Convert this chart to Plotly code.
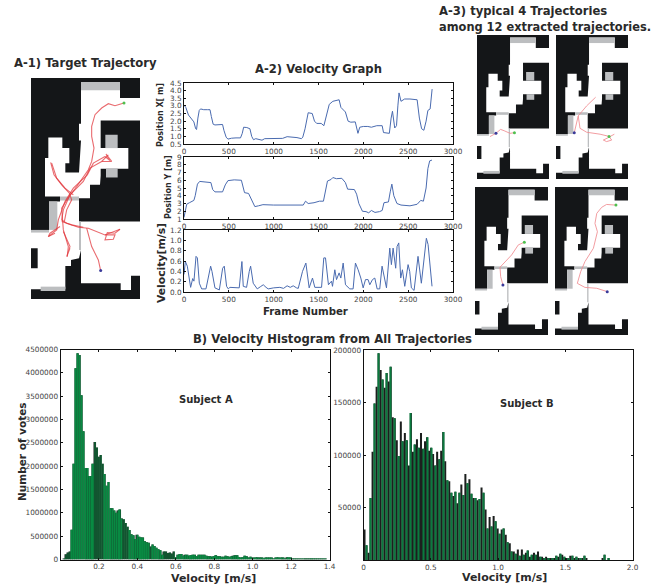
import plotly.graph_objects as go

W, H = 662, 586
FONT = "DejaVu Sans"
INK = "#2a2a2a"

# ---- Data ----
pos_x_frames = [0,20,50,80,110,130,140,155,170,185,220,260,290,305,325,345,380,430,445,470,490,530,580,630,650,665,700,735,755,775,800,830,870,900,950,1050,1100,1150,1200,1260,1310,1325,1350,1370,1385,1430,1455,1480,1530,1560,1590,1620,1660,1700,1730,1750,1800,1830,1860,1910,1940,1960,2000,2050,2090,2150,2210,2225,2290,2310,2325,2350,2370,2385,2398,2420,2460,2520,2600,2625,2650,2675,2700,2720,2745,2767]
pos_x_values = [3.05,2.9,2.4,2.15,1.95,1.5,1.45,2.2,2.7,2.8,2.75,2.75,2.75,2.3,1.8,1.75,1.75,1.78,1.4,0.95,0.82,0.88,0.9,0.9,1.2,1.6,1.58,1.5,1.0,0.78,0.85,0.82,0.75,0.85,0.85,0.87,0.87,0.98,0.97,0.92,0.85,0.95,1.5,2.1,2.55,2.5,2.0,1.85,1.85,1.7,2.5,3.1,3.3,3.35,3.4,2.9,2.6,2.0,1.93,1.95,1.2,1.6,1.65,1.65,1.6,1.7,1.7,1.25,1.2,2.2,2.65,1.55,1.7,3.0,3.85,3.3,3.45,3.45,3.4,2.2,1.5,1.4,2.0,2.7,2.8,4.1]
pos_y_frames = [0,15,30,60,110,125,150,175,260,300,320,345,430,460,490,560,640,660,675,720,740,770,790,830,880,1000,1100,1200,1330,1355,1385,1450,1510,1555,1580,1600,1640,1660,1700,1760,1800,1825,1900,1925,1950,1990,2030,2060,2090,2130,2180,2210,2230,2280,2300,2318,2340,2375,2420,2480,2520,2600,2640,2670,2700,2720,2740,2765]
pos_y_values = [1.2,2,2.9,3.1,3.4,4,5.5,5.85,5.8,5.7,4.8,4.5,4.5,5.4,5.95,6.05,6.0,5.0,4.4,4.3,3.8,2.9,2.6,2.7,2.85,2.8,2.8,2.85,2.8,3.3,3.0,3.1,3.3,3.3,5,5.9,6.1,6.35,6.2,6.25,5.7,4.85,4.8,4.2,3,2,1.95,1.8,2.1,1.85,1.95,2.1,3.1,3.2,4.5,5.5,4,3,2.8,2.75,2.7,2.9,3.4,3.3,5,7.5,8.5,8.6]
vel_frames = [0,15,37,74,97,111,134,149,171,197,245,297,312,345,394,431,449,475,494,512,616,635,646,661,698,728,743,772,817,850,884,915,939,1000,1069,1110,1150,1185,1218,1255,1274,1322,1359,1396,1433,1459,1534,1559,1578,1611,1645,1656,1682,1701,1730,1749,1775,1801,1849,1886,1912,1942,1972,1998,2024,2053,2072,2102,2128,2154,2183,2209,2232,2258,2295,2313,2332,2361,2376,2395,2417,2436,2462,2499,2517,2536,2566,2610,2647,2677,2703,2722,2766]
vel_values = [.34,.59,.50,.09,.26,.21,.69,.66,.17,.06,.06,.50,.40,.08,.04,.46,.50,.11,.06,.09,.08,.53,.59,.11,.09,.40,.50,.17,.06,.10,.14,.09,.06,.08,.09,.07,.12,.09,.12,.08,.07,.40,.56,.08,.27,.09,.09,.66,.66,.14,.21,.11,.43,.24,.37,.27,.56,.14,.06,.06,.56,.43,.27,.08,.24,.24,.14,.24,.27,.06,.06,.50,.27,.08,.85,.53,.85,.46,.88,.95,.27,.43,.11,.53,.40,.08,.03,.69,.17,.62,1.04,.92,.11]

hist_a_start, hist_a_bin = 0.02, 0.01
hist_a_votes = [15,110,150,170,640,2050,4100,4420,4380,3520,2750,1960,1960,1790,1790,2050,2520,2400,2200,2240,2050,1830,1580,1660,1100,1100,1050,1000,1050,1070,880,860,780,700,630,540,520,440,530,490,470,470,390,370,360,280,320,290,250,220,200,100,170,170,140,150,130,170,50,100,120,120,80,100,100,80,90,100,100,70,100,100,100,100,80,70,70,60,70,90,70,70,60,60,80,70,60,70,80,90,90,50,40,50,80,70,30,60,40,40,50,40,30,30,20,30,40,40,30,20,40,50,30,40,30,20,50,40,30,10,10,20,10,10,10,20,10,10,10,5,5,5,5,5,5,5,5]
hist_b_start, hist_b_bin = 0.0, 0.015
hist_b_votes = [29,14,7,59,103,149,165,197,181,172,164,178,170,184,136,135,114,99,132,113,121,114,90,140,103,110,115,107,121,106,113,117,104,107,101,90,103,96,104,122,94,76,75,64,61,65,54,64,72,62,82,73,77,63,59,59,57,58,69,64,48,30,41,32,42,37,30,25,29,30,24,17,16,8,8,6,10,4,10,5,7,9,3,5,7,5,8,3,3,2,3,1,2,1,2,4,3,6,5,3,2,2,4,4,2,3,1,1,1,4,2,0,0,0,0,0,0,0,2,5,0,2]

map_black_x = [93,420,420,93]
map_black_y = [85,85,747,747]
map_white_x = [243,360,360,420,420,302,302,385,385,302,302,300,270,270,237,237,420,420,393,393,362,362,243,243,237,213,213,196,196,93,93,113,113,93,93,147,147,180,180,135,135,145,145,187,187,208,208,196,196,237,243,237,237,243]
map_white_y = [97,97,145,145,212,212,295,295,357,357,378,405,405,445,445,515,515,677,677,720,720,700,700,600,625,630,648,648,718,718,655,655,595,595,540,540,455,455,440,440,325,325,263,263,295,295,340,340,368,368,272,272,222,222]
map_gray_blocks = [
    ([243,360,360,243],[97,97,122,122]),
    ([316,353,353,316],[255,255,295,295]),
    ([318,353,353,318],[357,357,383,383]),
    ([147,172,172,147],[455,455,540,540]),
    ([180,237,237,180],[440,440,452,452]),
    ([93,147,147,93],[540,540,548,548]),
    ([237,243,243,237],[515,515,600,600]),
    ([122,196,196,122],[710,710,723,723]),
]

target_strands = [
    ([372,345,325,305,285,275,275,282,275,265,230,208,190,185,200,235,265,315,360],[160,168,162,175,195,230,260,295,335,360,410,440,480,510,520,532,535,555,538]),
    ([315,280,262,220,195,175,170,145],[320,340,375,415,455,510,540,560]),
    ([325,305,270,250,210,185,190,205,202],[315,335,355,395,435,475,540,590,620]),
    ([152,162,185,208,215,200,193],[338,375,405,430,450,480,515]),
    ([155,170,195,220],[340,385,415,435]),
    ([180,150,145,165],[530,550,560,550]),
    ([190,210,200,210],[545,590,620,595]),
    ([260,275,295,302],[535,590,630,662]),
    ([315,345,340,315,322,345,360],[555,555,568,570,548,550,538]),
    ([315,330,318,335,305],[320,332,313,335,335]),
    ([185,215,250],[515,525,532]),
]
target_start = ([372],[160])
target_end = ([302],[662])

thumb_paths = [
    ([([263,243,216,200,179,152],[534,537,525,519,537,552])], ([263],[534]), ([179],[537])),
    ([([273,232,194,176],[371,411,457,534]),
      ([194,202,232,293,338,358],[457,514,532,541,552,541]),
      ([334,308,323,346,334],[555,568,575,568,552])], ([334],[552]), ([176],[534])),
    ([([314,287,257,205,208,218],[332,344,389,444,486,523])], ([314],[332]), ([218],[523])),
    ([([366,324,302,280,272,283,265,227,208,193,227,280,327],[166,163,176,203,248,285,359,419,464,516,534,538,553])], ([366],[166]), ([327],[553])),
]

# ---- Layout helpers ----
def dom_x(a, b): return [a / W, b / W]
def dom_y(a, b): return [1 - b / H, 1 - a / H]

fig = go.Figure()
layout_axes = {}
count = 0

def new_axes(box, xrange, yrange, visible=True, xticks=None, yticks=None):
    global count
    count += 1
    sx = "" if count == 1 else str(count)
    common = dict(showgrid=False, zeroline=False)
    tick = dict(ticks="inside", ticklen=2, tickwidth=1, tickcolor="#111", mirror="allticks",
                showline=True, linecolor="#111", linewidth=1,
                tickfont=dict(family=FONT, size=7.3, color="#444"))
    if visible:
        common.update(tick)
    else:
        common.update(visible=False)
    xa = dict(domain=dom_x(box[0], box[1]), range=xrange, anchor="y" + sx, **common)
    ya = dict(domain=dom_y(box[2], box[3]), range=yrange, anchor="x" + sx, **common)
    if xticks: xa.update(tickvals=xticks[0], ticktext=xticks[1])
    if yticks: ya.update(tickvals=yticks[0], ticktext=yticks[1])
    layout_axes["xaxis" + sx] = xa
    layout_axes["yaxis" + sx] = ya
    return "x" + sx, "y" + sx

def draw_map(xa, ya):
    fig.add_trace(go.Scatter(x=map_black_x, y=map_black_y, xaxis=xa, yaxis=ya, fill="toself", mode="none", fillcolor="#141618"))
    fig.add_trace(go.Scatter(x=map_white_x, y=map_white_y, xaxis=xa, yaxis=ya, fill="toself", mode="none", fillcolor="#ffffff"))
    for gx, gy in map_gray_blocks:
        fig.add_trace(go.Scatter(x=gx, y=gy, xaxis=xa, yaxis=ya, fill="toself", mode="none", fillcolor="#bcbec0"))

def draw_path(xa, ya, strands, start, end, lw, color):
    for sx_, sy_ in strands:
        fig.add_trace(go.Scatter(x=sx_, y=sy_, xaxis=xa, yaxis=ya, mode="lines", line=dict(color=color, width=lw)))
    fig.add_trace(go.Scatter(x=start[0], y=start[1], xaxis=xa, yaxis=ya, mode="markers", marker=dict(color="#4fc04f", size=3)))
    fig.add_trace(go.Scatter(x=end[0], y=end[1], xaxis=xa, yaxis=ya, mode="markers", marker=dict(color="#3a3a9a", size=3)))

# A-1 map
xa, ya = new_axes((31, 140, 78, 299), [93, 420], [747, 85], visible=False)
draw_map(xa, ya)
draw_path(xa, ya, target_strands, target_start, target_end, 1.1, "rgba(225,50,55,0.72)")

# A-3 maps
thumb_boxes = [(477, 549, 35, 179), (556, 628, 35, 179), (475, 548, 187, 335), (555, 628, 187, 335)]
for box, (strands, st, en) in zip(thumb_boxes, thumb_paths):
    xa, ya = new_axes(box, [93, 420], [747, 85], visible=False)
    draw_map(xa, ya)
    draw_path(xa, ya, strands, st, en, 1.0, "rgba(240,140,145,0.85)")

# A-2 line charts
frame_ticks = ([0, 500, 1000, 1500, 2000, 2500, 3000], ["0", "500", "1000", "1500", "2000", "2500", "3000"])
line_color = "#4a6bb0"
xa, ya = new_axes((184, 453, 83, 144), [0, 3000], [0.5, 4.5], xticks=frame_ticks,
                  yticks=([.5,1,1.5,2,2.5,3,3.5,4,4.5], ["0.5","1.0","1.5","2.0","2.5","3.0","3.5","4.0","4.5"]))
fig.add_trace(go.Scatter(x=pos_x_frames, y=pos_x_values, xaxis=xa, yaxis=ya, mode="lines", line=dict(color=line_color, width=1)))
xa, ya = new_axes((184, 453, 157, 219), [0, 3000], [1, 9], xticks=frame_ticks,
                  yticks=(list(range(1, 10)), [str(i) for i in range(1, 10)]))
fig.add_trace(go.Scatter(x=pos_y_frames, y=pos_y_values, xaxis=xa, yaxis=ya, mode="lines", line=dict(color=line_color, width=1)))
xa, ya = new_axes((184, 453, 230, 292), [0, 3000], [0, 1.2], xticks=frame_ticks,
                  yticks=([0,.2,.4,.6,.8,1,1.2], ["0.0","0.2","0.4","0.6","0.8","1.0","1.2"]))
fig.add_trace(go.Scatter(x=vel_frames, y=vel_values, xaxis=xa, yaxis=ya, mode="lines", line=dict(color=line_color, width=1)))

# B histograms: dark bars with a narrower green core, as the downsampled original shows
DARK, GREEN = "#1c1f1e", "#088a42"
def stripe_fraction_a(center):
    if 0.06 <= center < 0.17 or 0.38 <= center < 0.47 or center >= 0.60:
        return 0.75
    if 0.24 <= center < 0.33:
        return 0.6
    return 0.25

xa, ya = new_axes((60.5, 329.5, 349.5, 559.5), [0, 1.4], [0, 4500000],
                  xticks=([.2,.4,.6,.8,1,1.2,1.4], ["0.2","0.4","0.6","0.8","1.0","1.2","1.4"]),
                  yticks=([0,500000,1000000,1500000,2000000,2500000,3000000,3500000,4000000,4500000],
                          ["0","500000","1000000","1500000","2000000","2500000","3000000","3500000","4000000","4500000"]))
a_centers = [hist_a_start + i * hist_a_bin for i in range(len(hist_a_votes))]
a_counts = [v * 1000 for v in hist_a_votes]
fig.add_trace(go.Bar(x=a_centers, y=a_counts, width=hist_a_bin, xaxis=xa, yaxis=ya, marker=dict(color=DARK, line=dict(width=0))))
fig.add_trace(go.Bar(x=a_centers, y=a_counts, width=[stripe_fraction_a(c) * hist_a_bin for c in a_centers],
                     xaxis=xa, yaxis=ya, marker=dict(color=GREEN, line=dict(width=0))))

xa, ya = new_axes((363.5, 632.5, 350, 560), [0, 2], [0, 200000],
                  xticks=([0,.5,1,1.5,2], ["0","0.5","1.0","1.5","2.0"]),
                  yticks=([50000,100000,150000,200000], ["50000","100000","150000","200000"]))
b_centers = [hist_b_start + (i + .5) * hist_b_bin for i in range(len(hist_b_votes))]
b_counts = [v * 1000 for v in hist_b_votes]
fig.add_trace(go.Bar(x=b_centers, y=b_counts, width=hist_b_bin, xaxis=xa, yaxis=ya, marker=dict(color=DARK, line=dict(width=0))))
fig.add_trace(go.Bar(x=b_centers[1::2], y=b_counts[1::2], width=0.5 * hist_b_bin, xaxis=xa, yaxis=ya,
                     marker=dict(color="#0a7a3e", line=dict(width=0))))

def label(text, x, y, size=11, anchor="center", angle=0, color=INK):
    return dict(text=text, x=x / W, y=1 - y / H, xref="paper", yref="paper", showarrow=False,
                xanchor=anchor, yanchor="middle", textangle=angle,
                font=dict(family=FONT, size=size, color=color, weight="bold"))

annotations = [
    label("A-1) Target Trajectory", 12, 63, size=11.6, anchor="left"),
    label("A-2) Velocity Graph", 318, 69, size=11.6),
    label("A-3) typical 4 Trajectories", 437, 11, size=11.6, anchor="left"),
    label("among 12 extracted trajectories.", 437, 27, size=11.4, anchor="left"),
    label("B) Velocity Histogram from All Trajectories", 332, 339, size=11.6),
    label("Subject A", 206, 399, size=10),
    label("Subject B", 527, 403, size=10),
    label("Frame Number", 305, 311, size=10.2),
    label("Velocity [m/s]", 214, 578, size=11),
    label("Velocity [m/s]", 504, 577, size=11),
    label("Number of votes", 22, 452, size=10.5, angle=-90),
    label("Position X[ m]", 160, 115, size=8, angle=-90),
    label("Position Y [m]", 169, 187, size=8, angle=-90),
    label("Velocity[m/s]", 161, 263, size=10.8, angle=-90),
]

fig.update_layout(width=W, height=H, margin=dict(l=0, r=0, t=0, b=0, autoexpand=False), showlegend=False,
                  paper_bgcolor="white", plot_bgcolor="white", barmode="overlay",
                  annotations=annotations, **layout_axes)
fig.write_html("out.html", config={"displayModeBar": False}, post_script="document.body.style.margin='0';")
